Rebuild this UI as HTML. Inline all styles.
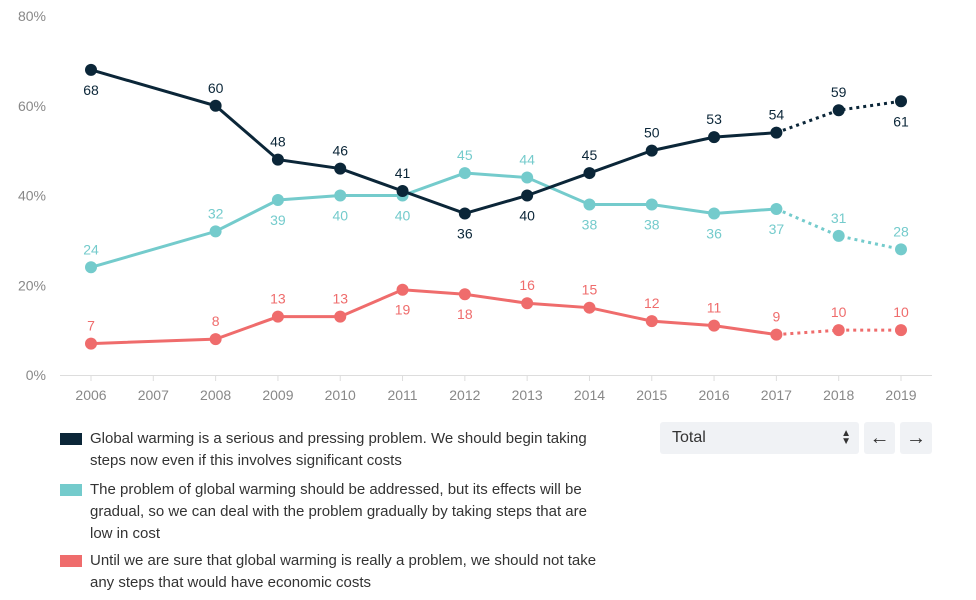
<!DOCTYPE html>
<html><head><meta charset="utf-8"><style>
body{margin:0;width:976px;height:600px;background:#fff;font-family:"Liberation Sans",sans-serif;overflow:hidden;position:relative}
.leg{position:absolute;left:60px;display:flex;color:#333;font-size:15px;line-height:22px;width:545px}
.sw{width:22px;height:12px;margin:5px 8px 0 0;flex:none}
.ctl{position:absolute;top:422px;height:32px;background:#f0f2f5;border-radius:3px;color:#333;font-size:16px;line-height:32px}
</style></head><body>
<svg id="chart" width="976" height="420" style="position:absolute;left:0;top:0"></svg>
<div class="leg" style="top:428px"><div class="sw" style="background:#0b2638"></div><div>Global warming is a serious and pressing problem. We should begin taking steps now even if this involves significant costs</div></div>
<div class="leg" style="top:479px"><div class="sw" style="background:#74cbcc"></div><div>The problem of global warming should be addressed, but its effects will be gradual, so we can deal with the problem gradually by taking steps that are low in cost</div></div>
<div class="leg" style="top:550px"><div class="sw" style="background:#ef6c6c"></div><div>Until we are sure that global warming is really a problem, we should not take any steps that would have economic costs</div></div>
<div class="ctl" style="left:660px;width:199px"><span style="margin-left:12px">Total</span><span style="position:absolute;right:8px;font-size:10px;line-height:8px;top:8px">▲<br>▼</span></div>
<div class="ctl" style="left:864px;width:31px;text-align:center;font-size:20px">←</div>
<div class="ctl" style="left:900px;width:32px;text-align:center;font-size:20px">→</div>
<script>
const years=[2006,2007,2008,2009,2010,2011,2012,2013,2014,2015,2016,2017,2018,2019];
const dataYears=[2006,2008,2009,2010,2011,2012,2013,2014,2015,2016,2017,2018,2019];
const serious=[68,60,48,46,41,36,40,45,50,53,54,59,61];
const gradual=[24,32,39,40,40,45,44,38,38,36,37,31,28];
const noSteps=[7,8,13,13,19,18,16,15,12,11,9,10,10];
const seriousPos=[1,-1,-1,-1,-1,1,1,-1,-1,-1,-1,-1,1];
const gradualPos=[-1,-1,1,1,1,-1,-1,1,1,1,1,-1,-1];
const noStepsPos=[-1,-1,-1,-1,1,1,-1,-1,-1,-1,-1,-1,-1];
const yTicks=[0,20,40,60,80];
const NS="http://www.w3.org/2000/svg",svg=document.getElementById('chart');
const x=y=>91+(y-2006)*(901-91)/13;
const yv=v=>375-v*(375-16)/80;
function el(t,a){const e=document.createElementNS(NS,t);for(const k in a)e.setAttribute(k,a[k]);svg.appendChild(e);return e;}
let ax=el('line',{x1:60,x2:932,y1:375.5,y2:375.5,stroke:'#ddd'});


yTicks.forEach(t=>{const e=el('text',{x:46,y:yv(t)+5,'text-anchor':'end','font-size':14,fill:'#888'});e.textContent=t+'%';

});
years.forEach(yr=>{el('line',{x1:x(yr),x2:x(yr),y1:375,y2:381,stroke:'#ddd'});const e=el('text',{x:x(yr),y:400,'text-anchor':'middle','font-size':14,fill:'#888'});e.textContent=yr;

});
function series(vals,pos,col,name){
 const solidN=vals.length-2;
 let p=vals.slice(0,solidN).map((v,i)=>x(dataYears[i])+','+yv(v)).join(' ');
 const l=el('polyline',{points:p,fill:'none',stroke:col,'stroke-width':3});
 
 
 let q=vals.slice(solidN-1).map((v,i)=>x(dataYears[i+solidN-1])+','+yv(v)).join(' ');
 const d=el('polyline',{points:q,fill:'none',stroke:col,'stroke-width':3,'stroke-dasharray':'3 4'});
 
 
 vals.forEach((v,i)=>{const c=el('circle',{cx:x(dataYears[i]),cy:yv(v),r:6,fill:col});
 
 
 const t=el('text',{x:x(dataYears[i]),y:yv(v)+(pos[i]>0?25:-13),'text-anchor':'middle','font-size':14,fill:col});t.textContent=v;
 
 });
}
series(noSteps,noStepsPos,'#ef6c6c','no-steps');
series(gradual,gradualPos,'#74cbcc','gradual');
series(serious,seriousPos,'#0b2638','serious');
</script>
</body></html>
